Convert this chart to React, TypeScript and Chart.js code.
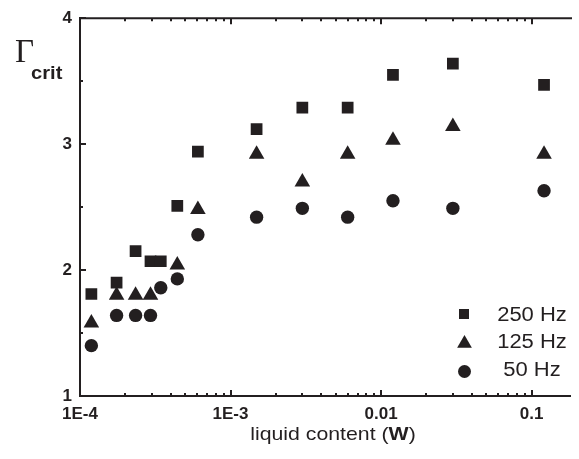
import React, { useEffect, useRef } from 'react';
import { Chart, registerables } from 'chart.js';

Chart.register(...registerables);

// ---- data ----
const liquidContent = [1.19e-4, 1.75e-4, 2.34e-4, 2.94e-4, 3.44e-4, 4.43e-4, 6.07e-4, 1.49e-3, 3.0e-3, 6.0e-3, 0.012, 0.030, 0.121];
const gamma250Hz: (number | null)[] = [1.81, 1.90, 2.15, 2.07, 2.07, 2.51, 2.94, 3.12, 3.29, 3.29, 3.55, 3.64, 3.47];
const gamma125Hz: (number | null)[] = [1.58, 1.80, 1.80, 1.80, null, 2.04, 2.48, 2.92, 2.70, 2.92, 3.03, 3.14, 2.92];
const gamma50Hz: (number | null)[] = [1.40, 1.64, 1.64, 1.64, 1.86, 1.93, 2.28, 2.42, 2.49, 2.42, 2.55, 2.49, 2.63];

const seriesLabels = ['250 Hz', '125 Hz', '50 Hz'];
const xTickValues = [1e-4, 1e-3, 0.01, 0.1];
const xTickLabels = ['1E-4', '1E-3', '0.01', '0.1'];
const yTickValues = [1, 2, 3, 4];
const yTickLabels = ['1', '2', '3', '4'];

const INK = '#231f20';
const SANS = '"Liberation Sans", Arial, Helvetica, sans-serif';
const SERIF = '"Liberation Serif", "Times New Roman", serif';

const toPoints = (ys: (number | null)[]) =>
  liquidContent
    .map((x, i) => ({ x, y: ys[i] }))
    .filter((p) => p.y !== null) as { x: number; y: number }[];

const minorXTicks = (() => {
  const out: number[] = [];
  for (let d = -4; d <= -1; d++) {
    for (let m = 1; m <= 9; m++) {
      const v = m * Math.pow(10, d);
      if (v <= 0.18) out.push(v);
    }
  }
  return out;
})();

const isDecade = (v: number) => Math.abs(Math.log10(v) - Math.round(Math.log10(v))) < 1e-6;

const decorPlugin = {
  id: 'decor',
  afterDraw(chart: any) {
    const ctx: CanvasRenderingContext2D = chart.ctx;
    const { left, right, top, bottom } = chart.chartArea;
    const xs = chart.scales.x;
    const ys = chart.scales.y;
    ctx.save();
    ctx.strokeStyle = INK;
    ctx.fillStyle = INK;
    ctx.lineWidth = 2;

    // top frame line
    ctx.beginPath();
    ctx.moveTo(left - 1, top);
    ctx.lineTo(right + 2, top);
    ctx.stroke();

    // x ticks (inward, bottom and top)
    xs.ticks.forEach((t: any) => {
      const px = Math.round(xs.getPixelForValue(t.value));
      const len = isDecade(t.value) ? 6 : 3;
      ctx.beginPath();
      ctx.moveTo(px, bottom);
      ctx.lineTo(px, bottom - len);
      ctx.moveTo(px, top);
      ctx.lineTo(px, top + len);
      ctx.stroke();
    });

    // y ticks (inward)
    ys.ticks.forEach((t: any) => {
      const py = Math.round(ys.getPixelForValue(t.value));
      const len = Number.isInteger(t.value) ? 6 : 3;
      ctx.beginPath();
      ctx.moveTo(left, py);
      ctx.lineTo(left + len, py);
      ctx.stroke();
    });

    // y title: Γ_crit
    ctx.textAlign = 'left';
    ctx.textBaseline = 'alphabetic';
    ctx.font = `33px ${SERIF}`;
    ctx.fillText('Γ', 15, 62);
    ctx.save();
    ctx.translate(31, 79);
    ctx.scale(1.06, 1);
    ctx.font = `bold 19px ${SANS}`;
    ctx.fillText('crit', 0, 0);
    ctx.restore();

    // x title: liquid content (W)
    const sx = 1.12;
    const parts = [
      { t: 'liquid content (', f: `19px ${SANS}` },
      { t: 'W', f: `bold 19px ${SANS}` },
      { t: ')', f: `19px ${SANS}` },
    ];
    let total = 0;
    parts.forEach((p) => {
      ctx.font = p.f;
      total += ctx.measureText(p.t).width;
    });
    const xAxisMid = (left + right) / 2;
    ctx.save();
    ctx.translate(333 - (total * sx) / 2, 440);
    ctx.scale(sx, 1);
    let cx = 0;
    parts.forEach((p) => {
      ctx.font = p.f;
      ctx.fillText(p.t, cx, 0);
      cx += ctx.measureText(p.t).width;
    });
    ctx.restore();
    void xAxisMid;

    // legend
    const mx = 464;
    // square
    ctx.fillRect(mx - 5, 309, 10, 10);
    // triangle
    const r = 8.5;
    const tcy = 343.5;
    ctx.beginPath();
    ctx.moveTo(mx + 0.5, tcy - r);
    ctx.lineTo(mx + 0.5 + r * Math.sin((2 * Math.PI) / 3), tcy + r / 2);
    ctx.lineTo(mx + 0.5 - r * Math.sin((2 * Math.PI) / 3), tcy + r / 2);
    ctx.closePath();
    ctx.fill();
    // circle
    ctx.beginPath();
    ctx.arc(mx + 0.5, 371.5, 6.5, 0, Math.PI * 2);
    ctx.fill();

    ctx.font = `20px ${SANS}`;
    ctx.textAlign = 'center';
    const baselines = [321, 348, 376];
    seriesLabels.forEach((lbl, i) => {
      ctx.save();
      ctx.translate(532, baselines[i]);
      ctx.scale(1.1, 1);
      ctx.fillText(lbl, 0, 0);
      ctx.restore();
    });

    ctx.restore();
  },
};

export default function App() {
  const canvasRef = useRef<HTMLCanvasElement | null>(null);

  useEffect(() => {
    const canvas = canvasRef.current;
    if (!canvas) return;
    const chart = new Chart(canvas, {
      type: 'scatter',
      data: {
        datasets: [
          {
            label: seriesLabels[0],
            data: toPoints(gamma250Hz),
            pointStyle: 'rect',
            pointRadius: 8.3,
            pointBackgroundColor: INK,
            pointBorderWidth: 0,
            showLine: false,
          },
          {
            label: seriesLabels[1],
            data: toPoints(gamma125Hz),
            pointStyle: 'triangle',
            pointRadius: 9,
            pointBackgroundColor: INK,
            pointBorderWidth: 0,
            showLine: false,
          },
          {
            label: seriesLabels[2],
            data: toPoints(gamma50Hz),
            pointStyle: 'circle',
            pointRadius: 6.7,
            pointBackgroundColor: INK,
            pointBorderWidth: 0,
            showLine: false,
          },
        ],
      },
      options: {
        responsive: false,
        animation: false,
        events: [],
        layout: { padding: { top: 16, right: 0, bottom: 0, left: 0 } },
        plugins: {
          legend: { display: false },
          tooltip: { enabled: false },
          title: { display: false },
        },
        scales: {
          x: {
            type: 'logarithmic',
            min: 1e-4,
            max: 0.18,
            grid: { display: false, drawTicks: false },
            border: { display: true, width: 2, color: INK },
            afterBuildTicks: (s: any) => {
              s.ticks = minorXTicks.map((v) => ({ value: v }));
            },
            afterFit: (s: any) => {
              s.height = 63;
            },
            ticks: {
              autoSkip: false,
              maxRotation: 0,
              minRotation: 0,
              padding: 8,
              color: INK,
              font: { family: SANS, size: 17, weight: 'bold' },
              callback: (v: any) => {
                const i = xTickValues.findIndex((t) => Math.abs(t - Number(v)) / t < 1e-6);
                return i >= 0 ? xTickLabels[i] : '';
              },
            },
          },
          y: {
            type: 'linear',
            min: 1,
            max: 4,
            grid: { display: false, drawTicks: false },
            border: { display: true, width: 2, color: INK },
            afterFit: (s: any) => {
              s.width = 80;
            },
            ticks: {
              stepSize: 0.5,
              padding: 8,
              color: INK,
              font: { family: SANS, size: 17, weight: 'bold' },
              callback: (v: any) => {
                const i = yTickValues.indexOf(Number(v));
                return i >= 0 ? yTickLabels[i] : '';
              },
            },
          },
        },
      },
      plugins: [decorPlugin],
    } as any);
    return () => chart.destroy();
  }, []);

  return (
    <div style={{ position: 'absolute', left: 0, top: 0, width: 579, height: 459, background: '#fff' }}>
      <canvas ref={canvasRef} width={579} height={459} style={{ display: 'block', width: 579, height: 459 }} />
    </div>
  );
}
